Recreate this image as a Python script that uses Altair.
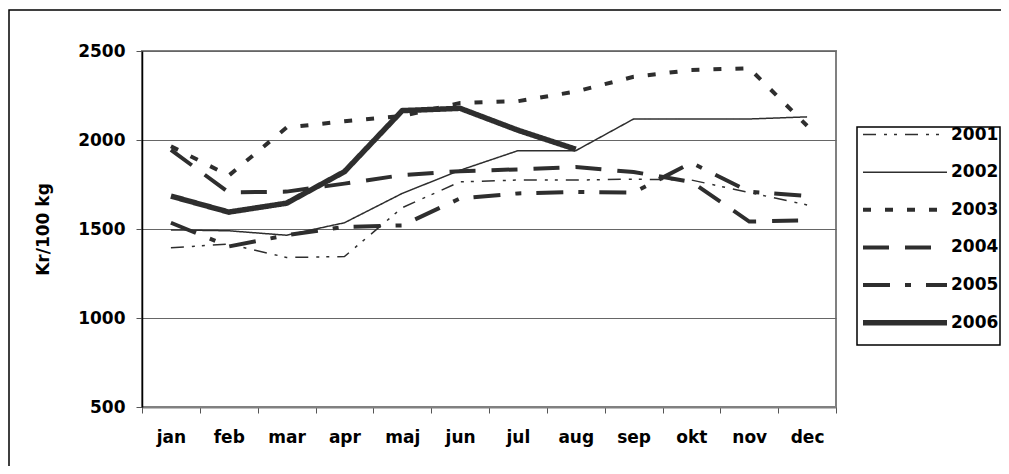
import altair as alt
import pandas as pd

# ---- data ----
months = ["jan", "feb", "mar", "apr", "maj", "jun", "jul", "aug", "sep", "okt", "nov", "dec"]
years = ["2001", "2002", "2003", "2004", "2005", "2006"]

v2001 = [1395, 1415, 1340, 1345, 1620, 1765, 1775, 1775, 1780, 1775, 1705, 1635]
v2002 = [1495, 1490, 1465, 1535, 1700, 1830, 1940, 1940, 2118, 2118, 2118, 2130]
v2003 = [1965, 1800, 2070, 2105, 2135, 2208, 2218, 2272, 2355, 2393, 2403, 2080]
v2004 = [1945, 1705, 1710, 1755, 1803, 1825, 1835, 1848, 1820, 1765, 1542, 1548]
v2005 = [1535, 1402, 1465, 1512, 1520, 1672, 1700, 1708, 1705, 1872, 1710, 1685]
v2006 = [1685, 1595, 1645, 1822, 2165, 2178, 2055, 1948, None, None, None, None]

y_ticks = [500, 1000, 1500, 2000, 2500]
y_title = "Kr/100 kg"

# ---- styles ----
LINE = "#2e2e2e"
FONT = "DejaVu Sans"
FS = 17
dash_range = [[13, 8, 3, 7, 3, 8], [1, 0], [8, 14], [26, 16], [27, 15, 6, 15], [1, 0]]
width_range = [1.5, 1.5, 4, 4, 4, 5.5]

W, H = 694, 356

series = dict(zip(years, [v2001, v2002, v2003, v2004, v2005, v2006]))
rows = []
for yr, vals in series.items():
    for i, (m, v) in enumerate(zip(months, vals)):
        if v is not None:
            rows.append({"month": m, "mi": i, "year": yr, "value": v})
df = pd.DataFrame(rows)

dash_enc = alt.StrokeDash("year:O", scale=alt.Scale(domain=years, range=dash_range), legend=None)
sw_enc = alt.StrokeWidth("year:O", scale=alt.Scale(type="ordinal", domain=years, range=width_range), legend=None)

lines = alt.Chart(df).mark_line(color=LINE).encode(
    x=alt.X("month:N", sort=months, bandPosition=0.5,
            scale=alt.Scale(type="band", domain=months, paddingInner=0, paddingOuter=0),
            axis=alt.Axis(title=None, tickBand="extent", labelAngle=0, grid=False,
                          domainColor="#808080", domainWidth=2, tickColor="#555555",
                          tickSize=6, labelPadding=16)),
    y=alt.Y("value:Q", scale=alt.Scale(domain=[500, 2500], nice=False, zero=False),
            axis=alt.Axis(values=y_ticks, format="d", title=y_title, grid=True, gridColor="#666666",
                          gridWidth=1, domainColor="#000000", domainWidth=1.5,
                          tickColor="#555555", tickSize=6, labelPadding=11,
                          titleX=-99, titleY=H / 2, titleAngle=-90, titleAlign="center",
                          titleBaseline="middle")),
    order=alt.Order("mi:Q"),
    strokeDash=dash_enc,
    strokeWidth=sw_enc,
)

leg_df = pd.DataFrame({"year": years, "a": [0] * len(years), "b": [1] * len(years)})
leg_xscale = alt.Scale(domain=[0, 1], range=[721, 805])
leg_yscale = alt.Scale(type="point", domain=years, range=[83.5, 271.7], padding=0)

leg_lines = alt.Chart(leg_df).mark_rule(color=LINE).encode(
    x=alt.X("a:Q", scale=leg_xscale, axis=None),
    x2="b:Q",
    y=alt.Y("year:N", scale=leg_yscale, axis=None),
    strokeDash=dash_enc,
    strokeWidth=sw_enc,
)
leg_text = alt.Chart(leg_df).mark_text(
    align="left", baseline="middle", dx=4, font=FONT, fontSize=FS,
    fontWeight="bold", color="black"
).encode(
    x=alt.X("b:Q", scale=leg_xscale, axis=None),
    y=alt.Y("year:N", scale=leg_yscale, axis=None),
    text="year:N",
)

one = alt.Data(values=[{"k": 1}])
outer = alt.Chart(one).mark_rect(fillOpacity=0, stroke="black", strokeWidth=1.5).encode(
    x=alt.value(-133), x2=alt.value(2000), y=alt.value(-41), y2=alt.value(2000)
)
box = alt.Chart(one).mark_rect(fill="white", stroke="black", strokeWidth=1.5).encode(
    x=alt.value(715), x2=alt.value(858), y=alt.value(76), y2=alt.value(294)
)

chart = alt.layer(outer, box, lines, leg_lines, leg_text).resolve_scale(
    x="independent", y="independent", strokeDash="shared", strokeWidth="shared"
).properties(
    width=W, height=H,
    autosize=alt.AutoSizeParams(type="none"),
    padding={"left": 134, "top": 43, "right": 165, "bottom": 59},
    background="white",
).configure_view(
    stroke="#808080", strokeWidth=2
).configure_axis(
    labelFont=FONT, labelFontSize=FS, labelFontWeight="bold", labelColor="black",
    titleFont=FONT, titleFontSize=FS, titleFontWeight="bold", titleColor="black",
)

chart.save("out.html", embed_options={"renderer": "svg", "actions": False})
